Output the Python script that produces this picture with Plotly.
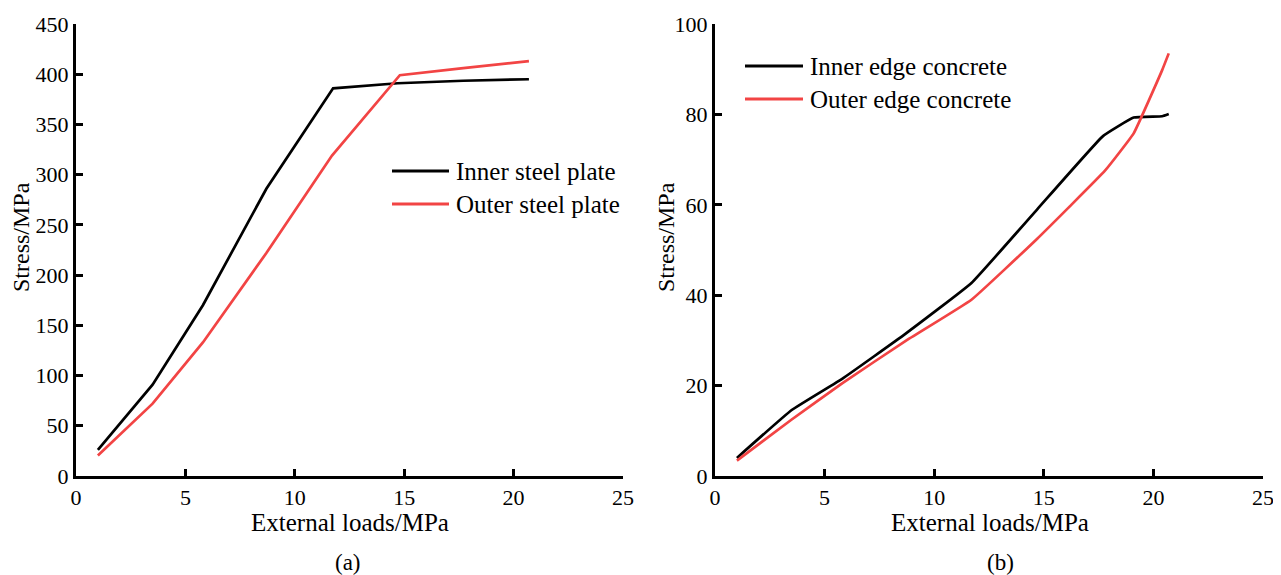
import plotly.graph_objects as go

# Panel (a): steel plates
load_a = [1.0, 3.5, 5.8, 8.7, 11.75, 14.7, 17.7, 20.7]
inner_steel = [26, 91, 170, 286, 386, 391, 393.5, 395]
load_a_out = [1.0, 3.5, 5.8, 8.7, 11.7, 14.8, 17.7, 20.7]
outer_steel = [20.5, 72, 133, 222, 319, 399, 406, 413]

# Panel (b): concrete edges
load_b_in = [1.0, 3.5, 5.8, 8.7, 11.7, 14.7, 17.7, 19.1, 20.4, 20.7]
inner_conc = [4.0, 14.6, 21.5, 31.5, 42.7, 59.0, 75.2, 79.3, 79.6, 80.1]
load_b_out = [1.0, 3.5, 5.8, 8.7, 11.7, 14.7, 17.8, 19.1, 20.4, 20.7]
outer_conc = [3.4, 12.5, 20.5, 29.9, 39.0, 52.5, 67.6, 75.8, 89.8, 93.5]

names_a = ["Inner steel plate", "Outer steel plate"]
names_b = ["Inner edge concrete", "Outer edge concrete"]
x_title = "External loads/MPa"
y_title = "Stress/MPa"
panel_labels = ["(a)", "(b)"]

x_ticks = [0, 5, 10, 15, 20, 25]
ya_ticks = list(range(0, 451, 50))
yb_ticks = list(range(0, 101, 20))

BLACK = "#000000"
RED = "#f24444"
FONT = "'Liberation Serif', 'Times New Roman', 'DejaVu Serif', serif"

# page body has an 8px margin: work in window pixels and shift
OFF = 8
W, H = 1281 - OFF, 575 - OFF


def px(x):
    return (x - OFF) / W


def py(y):
    return 1 - (y - OFF) / H


fig = go.Figure()
fig.add_trace(go.Scatter(x=load_a, y=inner_steel, mode="lines", name=names_a[0],
                         line=dict(color=BLACK, width=2.7), xaxis="x", yaxis="y"))
fig.add_trace(go.Scatter(x=load_a_out, y=outer_steel, mode="lines", name=names_a[1],
                         line=dict(color=RED, width=2.7), xaxis="x", yaxis="y"))
fig.add_trace(go.Scatter(x=load_b_in, y=inner_conc, mode="lines", name=names_b[0],
                         line=dict(color=BLACK, width=2.7, shape="spline", smoothing=0.3),
                         xaxis="x2", yaxis="y2"))
fig.add_trace(go.Scatter(x=load_b_out, y=outer_conc, mode="lines", name=names_b[1],
                         line=dict(color=RED, width=2.7, shape="spline", smoothing=0.3),
                         xaxis="x2", yaxis="y2"))

axis_common = dict(showline=True, linecolor=BLACK, linewidth=3, ticks="inside", ticklen=7,
                   tickwidth=2.5, tickcolor=BLACK, showgrid=False, zeroline=False,
                   tickfont=dict(family=FONT, size=22, color=BLACK), mirror=False,
                   automargin=False)

ydom = [py(476), py(24)]

shapes = []
annotations = []

# manual legends
legend_specs = [
    (392, 449, [171, 204], names_a),
    (745, 803, [66, 99], names_b),
]
for x0, x1, ys, names in legend_specs:
    for y, name, color in zip(ys, names, [BLACK, RED]):
        shapes.append(dict(type="line", xref="paper", yref="paper", x0=px(x0), x1=px(x1),
                           y0=py(y), y1=py(y), line=dict(color=color, width=3)))
        annotations.append(dict(text=name, x=px(x1 + 5), y=py(y), xref="paper", yref="paper",
                                showarrow=False, xanchor="left", yanchor="middle",
                                font=dict(family=FONT, size=25, color=BLACK)))

# axis titles and panel labels
for cx, ycx, lab, lx in [(350, 21, panel_labels[0], 348), (990, 666, panel_labels[1], 1000)]:
    annotations.append(dict(text=x_title, x=px(cx), y=py(522), xref="paper", yref="paper",
                            showarrow=False, xanchor="center", yanchor="middle",
                            font=dict(family=FONT, size=25, color=BLACK)))
    annotations.append(dict(text=y_title, x=px(ycx), y=py(237), xref="paper", yref="paper",
                            showarrow=False, xanchor="center", yanchor="middle", textangle=-90,
                            font=dict(family=FONT, size=24, color=BLACK)))
    annotations.append(dict(text=lab, x=px(lx), y=py(562), xref="paper", yref="paper",
                            showarrow=False, xanchor="center", yanchor="middle",
                            font=dict(family=FONT, size=23, color=BLACK)))

fig.update_layout(
    width=W, height=H,
    margin=dict(l=0, r=0, t=0, b=0, autoexpand=False),
    paper_bgcolor="white", plot_bgcolor="white",
    font=dict(family=FONT, size=22, color=BLACK),
    xaxis=dict(domain=[px(76), px(623)], range=[0, 25], tickvals=x_ticks, anchor="y",
               **axis_common),
    yaxis=dict(domain=ydom, range=[0, 450], tickvals=ya_ticks, anchor="x", **axis_common),
    xaxis2=dict(domain=[px(715), px(1263)], range=[0, 25], tickvals=x_ticks, anchor="y2",
                **axis_common),
    yaxis2=dict(domain=ydom, range=[0, 100], tickvals=yb_ticks, anchor="x2", **axis_common),
    showlegend=False,
    shapes=shapes,
    annotations=annotations,
)

fig.write_html("out.html")
